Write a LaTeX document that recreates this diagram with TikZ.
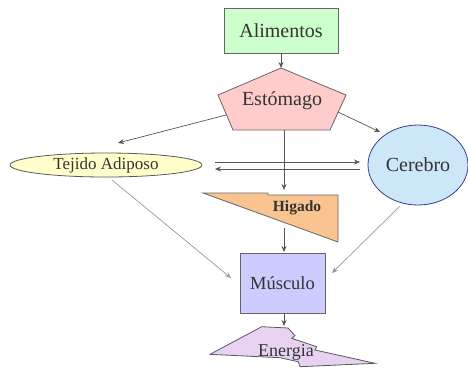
\documentclass[tikz,border=0pt]{standalone}
\usepackage{fontspec}
\setmainfont{Liberation Serif}
\usetikzlibrary{shapes.geometric,arrows.meta}
\definecolor{txt}{HTML}{333333}
\definecolor{lnk}{HTML}{555555}
\definecolor{lnklight}{HTML}{999999}
\definecolor{green1}{HTML}{CCFFCC}
\definecolor{pink1}{HTML}{FFCCCC}
\definecolor{yellow1}{HTML}{FFFFCC}
\definecolor{blue1}{HTML}{CCE8F8}
\definecolor{orange1}{HTML}{F9C48F}
\definecolor{lav1}{HTML}{CCCCFF}
\definecolor{lil1}{HTML}{E8D2F2}
\tikzset{
  shapeline/.style={draw=gray!80!black, line width=0.8pt},
  conn/.style={draw=lnk, line width=0.7pt, -{Stealth[length=6pt,width=5pt]}},
  connlight/.style={draw=lnklight, line width=0.7pt, -{Stealth[length=6pt,width=5pt]}},
  lbl/.style={text=txt, inner sep=0pt},
}
\begin{document}
\begin{tikzpicture}[x=1pt,y=-1pt]
\useasboundingbox (0,0) rectangle (468,368);
% Alimentos
\node[shapeline, fill=green1, minimum width=114pt, minimum height=45pt, inner sep=0pt, text=txt, font=\fontsize{20}{22}\selectfont] (alim) at (281,30.5) {Alimentos};
% Estomago
\path[shapeline, fill=pink1] (281,68)--(346,95)--(330,130)--(233,130)--(218,95)--cycle;
\node[lbl, font=\fontsize{20}{22}\selectfont] (esto) at (282,101) {Estómago};
% Tejido Adiposo
\node[ellipse, shapeline, draw=gray!70!black, fill=yellow1, minimum width=192pt, minimum height=24pt, inner sep=0pt, text=txt, font=\fontsize{17}{19}\selectfont] (teji) at (106,165) {Tejido Adiposo};
% Cerebro
\node[ellipse, shapeline, draw=gray!60!blue!80!black, fill=blue1, minimum width=100pt, minimum height=80pt, inner sep=0pt, text=txt, font=\fontsize{20}{22}\selectfont] (cere) at (418,165) {Cerebro};
% Higado
\path[shapeline, fill=orange1] (203,193)--(268,193)--(268,195)--(338,195)--(338,242)--cycle;
\node[lbl, font=\bfseries\fontsize{15.5}{17}\selectfont] (higa) at (297,208) {Higado};
% Musculo
\node[shapeline, fill=lav1, minimum width=85pt, minimum height=60pt, inner sep=0pt, text=txt, font=\fontsize{18.5}{20}\selectfont] (musc) at (282.5,283) {Músculo};
% Energia
\path[shapeline, draw=gray!70!black, fill=lil1] (210,354.3)--(261.7,326.7)--(288,328)--(295,335.7)--(291.7,338.3)--(316.7,346.7)--(315,350)--(375,363.3)--(300,366.7)--(298.3,361.7)--(280,357.7)--cycle;
\node[lbl, font=\fontsize{18}{20}\selectfont] (ener) at (286,352) {Energia};
% coordinates
\coordinate (e1) at (226,115);
\coordinate (t1) at (118,143);
\coordinate (e2) at (338,112);
\coordinate (c1) at (380,132);
\coordinate (e3) at (284,130);
\coordinate (h1) at (284,190);
\coordinate (ha) at (215,162);
\coordinate (hb) at (360,162);
\coordinate (hc) at (360,169);
\coordinate (hd) at (215,169);
\coordinate (h2) at (284,228);
\coordinate (m1) at (284,252);
\coordinate (t2) at (112,180);
\coordinate (m2) at (231,278);
\coordinate (c2) at (400,206);
\coordinate (m3) at (332,273);
\coordinate (m4) at (284,326);
% connectors
\draw[conn] (alim.south) -- (281,68);
\draw[conn] (e1) -- (t1);
\draw[conn] (e2) -- (c1);
\draw[conn] (e3) -- (h1);
\draw[conn] (ha) -- (hb);
\draw[conn] (hc) -- (hd);
\draw[conn] (h2) -- (m1);
\draw[connlight] (t2) -- (m2);
\draw[connlight] (c2) -- (m3);
\draw[conn] (musc.south -| m4) -- (m4);
\end{tikzpicture}
\end{document}
